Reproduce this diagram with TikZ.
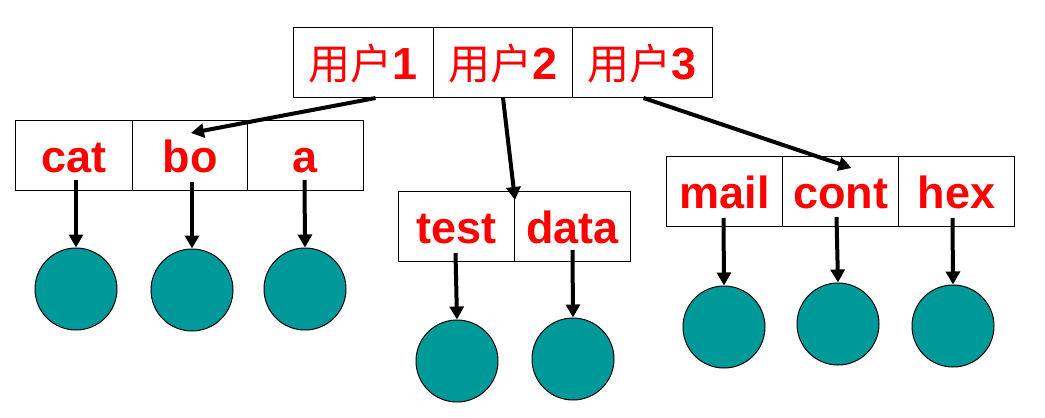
\documentclass[tikz,border=0pt]{standalone}
\usepackage{fontspec}
\setmainfont{Liberation Sans}
\newfontfamily\cjk{Noto Sans CJK SC}
\usetikzlibrary{arrows.meta,calc}
\definecolor{tealfill}{RGB}{0,153,153}
\tikzset{
  cell/.style={draw=black, line width=1pt, inner sep=0pt, anchor=north west,
    minimum height=70pt, text height=34pt, text depth=0pt,
    text=red, font=\fontsize{45}{50}\selectfont\bfseries},
  leaf/.style={circle, draw=black, line width=1pt, fill=tealfill, minimum size=82pt, inner sep=0pt},
  link/.style={line width=4pt, -{Triangle[length=13pt,width=14pt]}},
}
\newcommand{\yh}{{\mdseries\cjk\fontsize{42}{50}\selectfont 用户}}
\begin{document}
\begin{tikzpicture}[x=1pt,y=-1pt]
\useasboundingbox (0,0) rectangle (1045,418);
% top row
\node[cell, minimum width=140pt] (u1) at (293,27) {\yh 1};
\node[cell, minimum width=139pt] (u2) at (433,27) {\yh 2};
\node[cell, minimum width=140pt] (u3) at (572,27) {\yh 3};
% left group
\node[cell, minimum width=117pt] (cat) at (15,120) {cat};
\node[cell, minimum width=115pt] (bo) at (132,120) {bo};
\node[cell, minimum width=116pt] (a) at (247,120) {a};
% middle group
\node[cell, minimum width=116pt] (test) at (398,191) {test};
\node[cell, minimum width=116pt] (data) at (514,191) {data};
% right group
\node[cell, minimum width=116pt] (mail) at (666,156) {mail};
\node[cell, minimum width=116pt] (cont) at (782,156) {cont};
\node[cell, minimum width=116pt] (hex) at (898,156) {hex};
% circles
\node[leaf] (ccat) at (76,289) {};
\node[leaf] (cbo) at (192,290) {};
\node[leaf] (ca) at (305,289) {};
\node[leaf] (ctest) at (457,361) {};
\node[leaf] (cdata) at (573,359) {};
\node[leaf] (cmail) at (724,327) {};
\node[leaf] (ccont) at (838,324) {};
\node[leaf] (chex) at (953,326) {};
% arrows from top row
\draw[link] ($(u1.south)+(12,0)$) -- ($(bo.north)+(1,13)$);
\draw[link] (u2.south) -- ($(test.north east)+(0,9)$);
\draw[link] ($(u3.south)+(1,0)$) -- ($(cont.north)+(11,12)$);
% arrows to circles
\draw[link] ($(cat.south)+(2,-11)$) -- (ccat.north);
\draw[link] ($(bo.south)+(2,-9)$) -- (cbo.north);
\draw[link] ($(a.south)+(-1,-11)$) -- (ca.north);
\draw[link] ($(test.south)+(-1,-9)$) -- (ctest.north);
\draw[link] ($(data.south)+(0,-12)$) -- (cdata.north);
\draw[link] ($(mail.south)+(-1,-9)$) -- (cmail.north);
\draw[link] ($(cont.south)+(-4,-10)$) -- (ccont.north);
\draw[link] ($(hex.south)+(-4,-9)$) -- (chex.north);
\end{tikzpicture}
\end{document}
